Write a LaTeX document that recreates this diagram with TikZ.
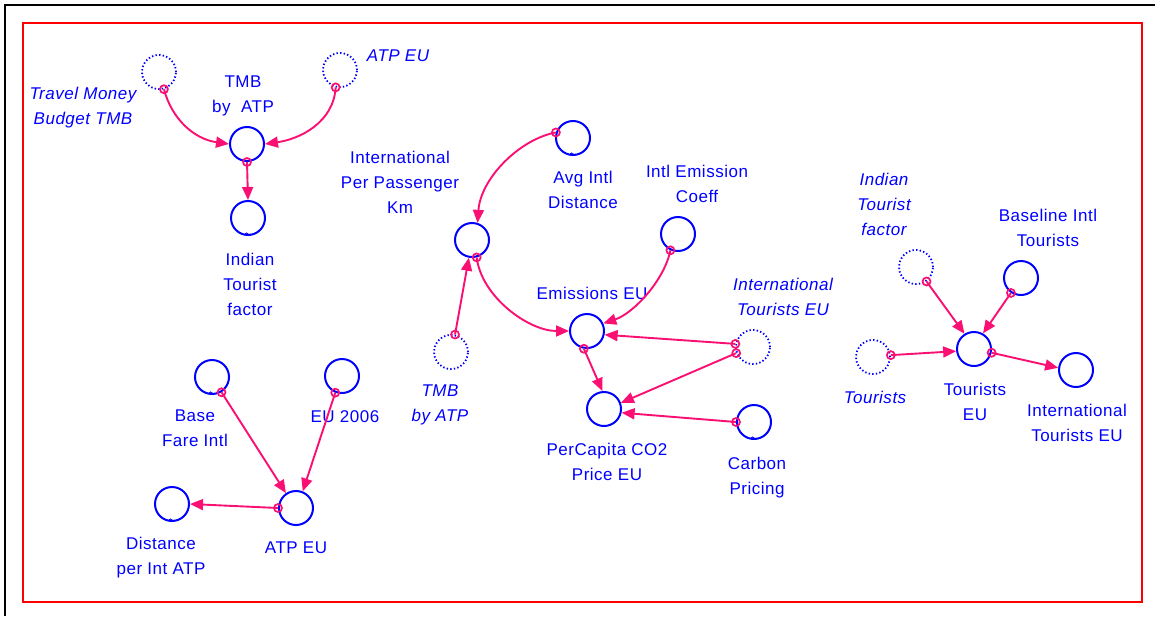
\documentclass[tikz,border=0pt]{standalone}
\usepackage{fontspec}
\setmainfont{Liberation Sans}[LetterSpace=3]
\usetikzlibrary{arrows.meta}
\definecolor{varblue}{RGB}{0,0,255}
\definecolor{linkpink}{RGB}{250,15,115}
\definecolor{framered}{RGB}{255,0,0}

% small wave at the foot of a constant
\newcommand{\constmark}[1]{%
  \draw[varblue,line width=0.9pt] ([shift={(-3,-2)}]#1.south)
    sin +(1.5,-1) cos +(1.5,1) sin +(1.5,1) cos +(1.5,-1);}

\begin{document}
\begin{tikzpicture}[x=1pt,y=-1pt,
  var/.style={circle,draw=varblue,line width=2pt,minimum size=34pt,inner sep=0pt},
  shadowvar/.style={var,line width=1.8pt,dash pattern=on 1.4pt off 2.2pt},
  lbl/.style={text=varblue,align=center,anchor=north,inner sep=0pt,
              font=\fontsize{17}{25}\selectfont},
  shlbl/.style={lbl,font=\fontsize{17}{25}\selectfont\itshape},
  link/.style={draw=linkpink,line width=1.9pt,-{Triangle[length=13pt,width=11pt]}},
  ring/.style={circle,draw=linkpink,line width=1.7pt,minimum size=8pt,inner sep=0pt},
]
\useasboundingbox (0,0) rectangle (1155,616);

% frames
\draw[line width=2.5pt] (5,616) -- (5,5) -- (1155,5);
\draw[framered,line width=2pt] (22.5,22.5) rectangle (1142,602);

% ---- variables ----
\node[shadowvar] (tmbS)  at (159,72)  {};
\node[shadowvar] (atpS)  at (340,70)  {};
\node[var]       (tmb)   at (247,144) {};
\node[var]       (itf)   at (248,218) {};

\node[var]       (avg)   at (573,138) {};
\node[var]       (ippk)  at (472,240) {};
\node[var]       (iec)   at (678,234) {};
\node[var]       (em)    at (587,331) {};
\node[shadowvar] (tmbS2) at (451,352) {};
\node[shadowvar] (iteS)  at (753,347) {};
\node[var]       (pc)    at (604,409) {};
\node[var]       (cp)    at (754,422) {};

\node[shadowvar] (itfS)  at (916,267) {};
\node[var]       (bit)   at (1021,278) {};
\node[shadowvar] (touS)  at (873,357) {};
\node[var]       (te)    at (974,349) {};
\node[var]       (ite)   at (1076,370) {};

\node[var]       (bfi)   at (212,377) {};
\node[var]       (eu06)  at (342,376) {};
\node[var]       (atp)   at (296,508) {};
\node[var]       (dist)  at (172,504) {};

\constmark{itf}
\constmark{avg}
\constmark{cp}
\constmark{bfi}
\constmark{dist}

% ---- labels ----
\node[shlbl] (l-tmbS)  at (83,87)    {Travel Money\\Budget TMB};
\node[shlbl] (l-atpS)  at (398,50)   {ATP EU};
\node[lbl]   (l-tmb)   at (243,76)   {TMB\\by\ \ ATP};
\node[lbl]   (l-itf)   at (250,253)  {Indian\\Tourist\\factor};
\node[lbl]   (l-ippk)  at (400,151)  {International\\Per Passenger\\Km};
\node[lbl]   (l-avg)   at (583,171)  {Avg Intl\\Distance};
\node[lbl]   (l-iec)   at (697,165)  {Intl Emission\\Coeff};
\node[lbl]   (l-em)    at (592,287)  {Emissions EU};
\node[shlbl] (l-tmbS2) at (440,385)  {TMB\\by ATP};
\node[shlbl] (l-iteS)  at (783,278)  {International\\Tourists EU};
\node[lbl]   (l-pc)    at (607,443)  {PerCapita CO2\\Price EU};
\node[lbl]   (l-cp)    at (757,457)  {Carbon\\Pricing};
\node[shlbl] (l-itfS)  at (884,173)  {Indian\\Tourist\\factor};
\node[lbl]   (l-bit)   at (1048,209) {Baseline Intl\\Tourists};
\node[shlbl] (l-touS)  at (875,391)  {Tourists};
\node[lbl]   (l-te)    at (975,383)  {Tourists\\EU};
\node[lbl]   (l-ite)   at (1077,404) {International\\Tourists EU};
\node[lbl]   (l-bfi)   at (195,410)  {Base\\Fare Intl};
\node[lbl]   (l-eu06)  at (345,410)  {EU 2006};
\node[lbl]   (l-atp)   at (296,542)  {ATP EU};
\node[lbl]   (l-dist)  at (161,537)  {Distance\\per Int ATP};

% ---- links (each starts in a small ring on its source) ----
\draw[link] (tmbS.-74) node[ring]{}
  .. controls +(8,30) and +(-35,-5) .. (tmb.180);
\draw[link] (atpS.-104) node[ring]{}
  .. controls +(-2,35) and +(35,-5) .. (tmb.0);
\draw[link] (tmb.-90) node[ring]{} -- (itf.90);

\draw[link] (avg.162) node[ring]{}
  .. controls +(-37,7) and +(3,-44) .. (ippk.72);
\draw[link] (tmbS2.77) node[ring]{} -- (ippk.-100);
\draw[link] (ippk.-75) node[ring]{}
  .. controls +(5,40) and +(-40,0) .. (em.180);
\draw[link] (iec.-115) node[ring]{}
  .. controls +(-6,30) and +(30,-10) .. (em.25);
\draw[link] (iteS.170) node[ring]{} -- (em.-12);
\draw[link] (iteS.-160) node[ring]{} -- (pc.20);
\draw[link] (em.-100) node[ring]{} -- (pc.95);
\draw[link] (cp.180) node[ring]{} -- (pc.-12);

\draw[link] (itfS.-54) node[ring]{} -- (te.122);
\draw[link] (bit.-124) node[ring]{} -- (te.60);
\draw[link] (touS.6) node[ring]{} -- (te.-173);
\draw[link] (te.-12) node[ring]{} -- (ite.173);

\draw[link] (bfi.-58) node[ring]{} -- (atp.124);
\draw[link] (eu06.-112) node[ring]{} -- (atp.68);
\draw[link] (atp.180) node[ring]{} -- (dist.0);
\end{tikzpicture}
\end{document}
